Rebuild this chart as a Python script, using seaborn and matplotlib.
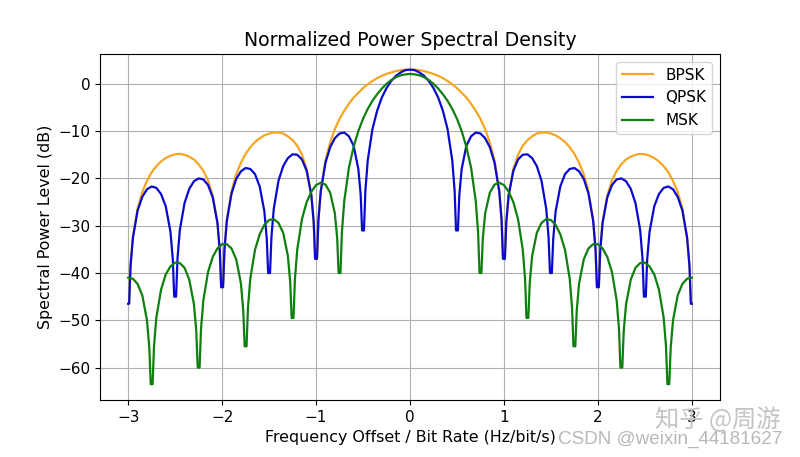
import numpy as np
import pandas as pd
import matplotlib
matplotlib.use('Agg')
import matplotlib.pyplot as plt
import seaborn as sns

# frequency grid (normalized by bit rate), -3 .. 3 in steps of 0.05
freq = np.round(np.linspace(-3, 3, 121), 2)

# values (dB) on the grid above
bpsk = [
    -46.5, -32.4, -26.4, -22.9, -20.5, -18.7, -17.4, -16.4, -15.7, -15.2,
    -14.9, -14.8, -15.0, -15.4, -16.0, -17.0, -18.4, -20.4, -23.6, -29.3,
    -43.0, -28.8, -22.7, -19.1, -16.7, -14.8, -13.4, -12.3, -11.5, -10.9,
    -10.5, -10.3, -10.3, -10.5, -11.1, -11.9, -13.1, -15.0, -18.0, -23.5,
    -37.0, -22.6, -16.2, -12.4, -9.6, -7.4, -5.7, -4.2, -2.9, -1.9,
    -0.9, -0.1, 0.6, 1.2, 1.7, 2.1, 2.4, 2.7, 2.9, 3.0,
    3.0, 3.0, 2.9, 2.7, 2.4, 2.1, 1.7, 1.2, 0.6, -0.1,
    -0.9, -1.9, -2.9, -4.2, -5.7, -7.4, -9.6, -12.4, -16.2, -22.6,
    -37.0, -23.5, -18.0, -15.0, -13.1, -11.9, -11.1, -10.5, -10.3, -10.3,
    -10.5, -10.9, -11.5, -12.3, -13.4, -14.8, -16.7, -19.1, -22.7, -28.8,
    -43.0, -29.3, -23.6, -20.4, -18.4, -17.0, -16.0, -15.4, -15.0, -14.8,
    -14.9, -15.2, -15.7, -16.4, -17.4, -18.7, -20.5, -22.9, -26.4, -32.4,
    -46.5,
]

qpsk = [
    -46.5, -32.6, -26.8, -23.9, -22.3, -21.7, -22.0, -23.3, -25.9, -31.3,
    -45.0, -30.9, -25.2, -22.2, -20.6, -20.0, -20.2, -21.4, -24.0, -29.4,
    -43.0, -29.0, -23.2, -20.1, -18.5, -17.8, -18.0, -19.1, -21.7, -27.0,
    -40.0, -26.4, -20.5, -17.4, -15.7, -14.9, -15.0, -16.0, -18.4, -23.6,
    -37.0, -22.7, -16.7, -13.4, -11.5, -10.5, -10.3, -11.1, -13.1, -18.0,
    -31.0, -16.2, -9.6, -5.7, -2.9, -0.9, 0.6, 1.7, 2.4, 2.9,
    3.0, 2.9, 2.4, 1.7, 0.6, -0.9, -2.9, -5.7, -9.6, -16.2,
    -31.0, -18.0, -13.1, -11.1, -10.3, -10.5, -11.5, -13.4, -16.7, -22.7,
    -37.0, -23.6, -18.4, -16.0, -15.0, -14.9, -15.7, -17.4, -20.5, -26.4,
    -40.0, -27.0, -21.7, -19.1, -18.0, -17.8, -18.5, -20.1, -23.2, -29.0,
    -43.0, -29.4, -24.0, -21.4, -20.2, -20.0, -20.6, -22.2, -25.2, -30.9,
    -45.0, -31.3, -25.9, -23.3, -22.0, -21.7, -22.3, -23.9, -26.8, -32.6,
    -46.5,
]

msk = [
    -41.0, -41.2, -42.3, -44.7, -50.0, -63.5, -49.4, -43.5, -40.3, -38.6,
    -37.8, -37.9, -38.9, -41.4, -46.6, -60.0, -45.8, -39.8, -36.6, -34.8,
    -33.9, -33.9, -34.8, -37.1, -42.2, -55.5, -41.2, -35.1, -31.8, -29.8,
    -28.8, -28.6, -29.4, -31.5, -36.4, -49.5, -35.0, -28.6, -25.0, -22.8,
    -21.4, -20.9, -21.3, -23.0, -27.4, -40.0, -24.8, -17.7, -13.3, -10.0,
    -7.4, -5.3, -3.6, -2.2, -1.0, 0.0, 0.8, 1.4, 1.8, 2.0,
    2.1, 2.0, 1.8, 1.4, 0.8, 0.0, -1.0, -2.2, -3.6, -5.3,
    -7.4, -10.0, -13.3, -17.7, -24.8, -40.0, -27.4, -23.0, -21.3, -20.9,
    -21.4, -22.8, -25.0, -28.6, -35.0, -49.5, -36.4, -31.5, -29.4, -28.6,
    -28.8, -29.8, -31.8, -35.1, -41.2, -55.5, -42.2, -37.1, -34.8, -33.9,
    -33.9, -34.8, -36.6, -39.8, -45.8, -60.0, -46.6, -41.4, -38.9, -37.9,
    -37.8, -38.6, -40.3, -43.5, -49.4, -63.5, -50.0, -44.7, -42.3, -41.2,
    -41.0,
]

# extra points read around the narrow nulls
bpsk_null_f = [-2.99, -2.975, -2.025, -2.01, -1.99, -1.975,
               -1.025, -1.01, -0.99, -0.975, 0.975, 0.99, 1.01, 1.025,
               1.975, 1.99, 2.01, 2.025, 2.975, 2.99]
bpsk_null_db = [-46.5, -38.5, -35.2, -43.0, -43.0, -34.9,
                -29.2, -37.0, -37.0, -28.8, -28.8, -37.0, -37.0, -29.2,
                -34.9, -43.0, -43.0, -35.2, -38.5, -46.5]

qpsk_null_f = [-2.99, -2.975, -2.525, -2.51, -2.49, -2.475,
               -2.025, -2.01, -1.99, -1.975, -1.525, -1.51, -1.49, -1.475,
               -1.025, -1.01, -0.99, -0.975, -0.525, -0.51, -0.49, -0.475,
               0.475, 0.49, 0.51, 0.525, 0.975, 0.99, 1.01, 1.025,
               1.475, 1.49, 1.51, 1.525, 1.975, 1.99, 2.01, 2.025,
               2.475, 2.49, 2.51, 2.525, 2.975, 2.99]
qpsk_null_db = [-46.5, -38.5, -37.1, -45.0, -45.0, -36.9,
                -35.2, -43.0, -43.0, -35.0, -32.7, -40.0, -40.0, -32.4,
                -29.3, -37.0, -37.0, -28.8, -23.5, -31.0, -31.0, -22.6,
                -22.6, -31.0, -31.0, -23.5, -28.8, -37.0, -37.0, -29.3,
                -32.4, -40.0, -40.0, -32.7, -35.0, -43.0, -43.0, -35.2,
                -36.9, -45.0, -45.0, -37.1, -38.5, -46.5]

msk_null_f = [-2.775, -2.76, -2.74, -2.725, -2.275, -2.26, -2.24, -2.225,
              -1.775, -1.76, -1.74, -1.725, -1.275, -1.26, -1.24, -1.225,
              -0.775, -0.76, -0.74, -0.725, 0.725, 0.74, 0.76, 0.775,
              1.225, 1.24, 1.26, 1.275, 1.725, 1.74, 1.76, 1.775,
              2.225, 2.24, 2.26, 2.275, 2.725, 2.74, 2.76, 2.775]
msk_null_db = [-55.8, -63.5, -63.5, -55.4, -52.3, -60.0, -60.0, -51.9,
               -47.9, -55.5, -55.5, -47.4, -42.0, -49.5, -49.5, -41.3,
               -32.7, -40.0, -40.0, -31.4, -31.4, -40.0, -40.0, -32.7,
               -41.3, -49.5, -49.5, -42.0, -47.4, -55.5, -55.5, -47.9,
               -51.9, -60.0, -60.0, -52.3, -55.4, -63.5, -63.5, -55.8]

schemes = ['BPSK', 'QPSK', 'MSK']
colors = ['#f5a623', '#0a0acd', '#0f7f0f']


def series_frame(grid_db, null_f, null_db):
    '''
    Merge the regular grid values with the extra points near the nulls
    '''
    base = pd.DataFrame({'freq': freq, 'db': grid_db})
    extra = pd.DataFrame({'freq': null_f, 'db': null_db})
    return pd.concat([base, extra]).sort_values('freq')


def main():
    frames = {
        'BPSK': series_frame(bpsk, bpsk_null_f, bpsk_null_db),
        'QPSK': series_frame(qpsk, qpsk_null_f, qpsk_null_db),
        'MSK': series_frame(msk, msk_null_f, msk_null_db),
    }

    fig, ax = plt.subplots(figsize=(8, 4.57), dpi=100)
    fig.subplots_adjust(left=0.125, right=0.9, top=0.882, bottom=0.125)

    for name, col in zip(schemes, colors):
        sns.lineplot(data=frames[name], x='freq', y='db', color=col,
                     label=name, linewidth=1.6, sort=False, estimator=None,
                     ax=ax)

    ax.grid(True, color='#b0b0b0', linewidth=0.8)
    ax.set_title('Normalized Power Spectral Density', fontsize=13.6)
    ax.set_xlabel('Frequency Offset / Bit Rate (Hz/bit/s)', fontsize=11.4)
    ax.set_ylabel('Spectral Power Level (dB)', fontsize=11.4)
    ax.tick_params(labelsize=11)
    ax.legend(loc='upper right', fontsize=11)

    # watermarks seen on the reference image
    fig.text(0.897, 0.081, '知乎 @周游', fontsize=17.5, color='#c4c4c4',
             ha='center', va='center',
             family=['Noto Sans CJK SC', 'DejaVu Sans'])
    fig.text(0.838, 0.039, 'CSDN @weixin_44181627', fontsize=13.6,
             color='#b8b8b8', ha='center', va='center',
             family='Liberation Sans')

    fig.savefig('out.png', dpi=100)


if __name__ == '__main__':
    main()
